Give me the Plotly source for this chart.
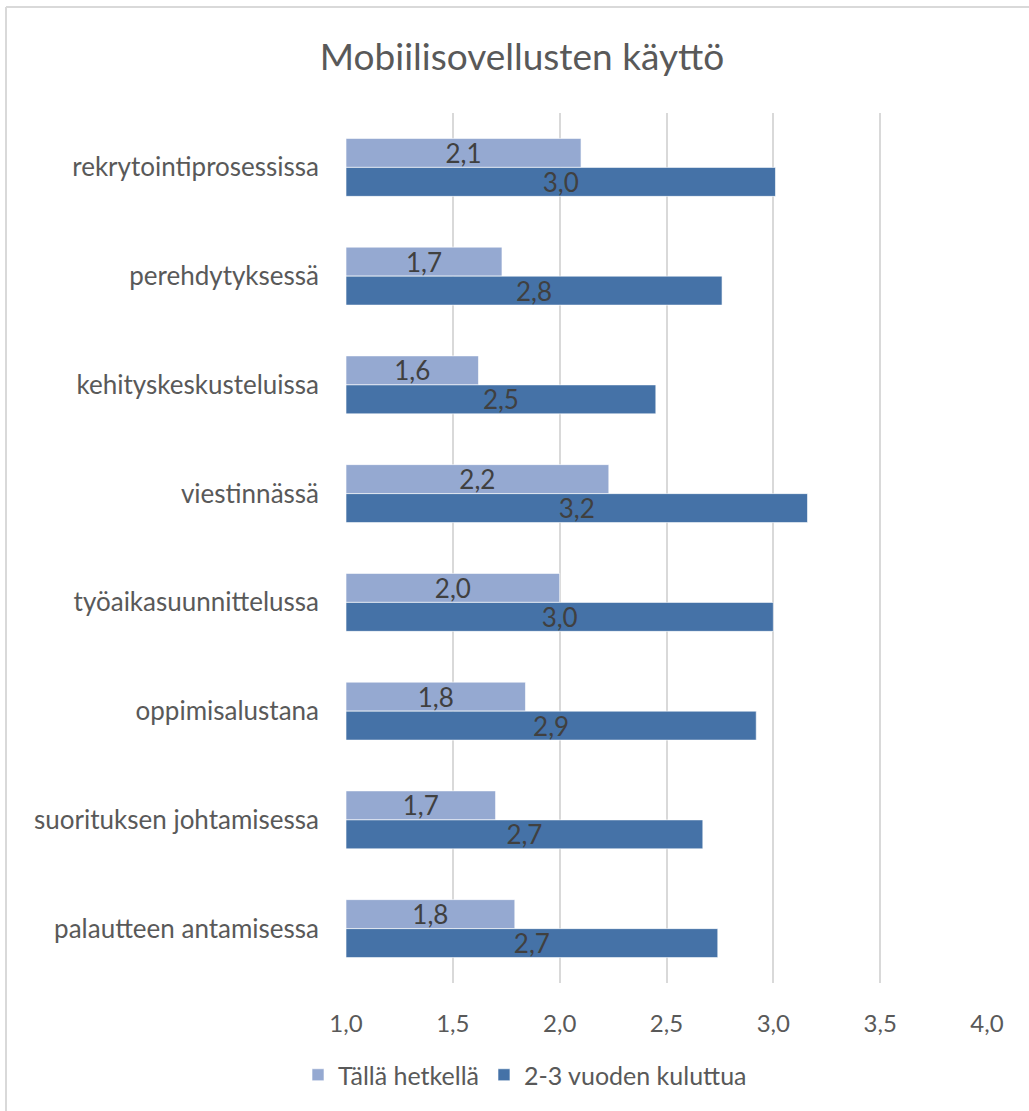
import plotly.graph_objects as go

categories = [
    "rekrytointiprosessissa",
    "perehdytyksessä",
    "kehityskeskusteluissa",
    "viestinnässä",
    "työaikasuunnittelussa",
    "oppimisalustana",
    "suorituksen johtamisessa",
    "palautteen antamisessa",
]
series_names = ["Tällä hetkellä", "2-3 vuoden kuluttua"]
current_values = [2.10, 1.73, 1.62, 2.23, 2.00, 1.84, 1.70, 1.79]
future_values = [3.01, 2.76, 2.45, 3.16, 3.00, 2.92, 2.67, 2.74]
x_ticks = [1.0, 1.5, 2.0, 2.5, 3.0, 3.5, 4.0]
axis_base = 1.0

W, H = 1029, 1111
L, R, T, B = 346, 42, 113, 128
FONT = "Lato, 'Open Sans', sans-serif"
colors = ["#95A9D1", "#4572A7"]

fig = go.Figure()
for name, vals, col in zip(series_names, [current_values, future_values], colors):
    fig.add_trace(go.Bar(
        name=name,
        y=categories,
        x=[v - axis_base for v in vals],
        base=axis_base,
        customdata=vals,
        orientation="h",
        marker=dict(color=col, line=dict(color="rgba(255,255,255,0.6)", width=1)),
        texttemplate="%{customdata:.1f}",
        textposition="inside",
        insidetextanchor="middle",
        constraintext="none",
        textfont=dict(family=FONT, size=26, color="#404040"),
        hovertemplate="%{y}: %{customdata:.1f}<extra>" + name + "</extra>",
    ))

pw = W - L - R
ph = H - T - B
def px_x(x):
    return (x - L) / pw
def px_y(y):
    return (H - B - y) / ph

fig.update_layout(
    width=W, height=H,
    margin=dict(l=L, r=R, t=T, b=B),
    paper_bgcolor="white", plot_bgcolor="white",
    separators=", ",
    barmode="group",
    bargap=0.467,
    bargroupgap=0,
    font=dict(family=FONT, color="#595959", size=24),
    title=dict(text="Mobiilisovellusten käyttö", x=522 / W, xref="container", xanchor="center",
               y=1 - 57 / H, yref="container", yanchor="middle",
               font=dict(family=FONT, size=37, color="#595959")),
    xaxis=dict(range=[1, 4], tickvals=x_ticks, tickformat=".1f", showgrid=True,
               gridcolor="#D9D9D9", gridwidth=2, zeroline=False, showline=False,
               ticks="", ticklabelstandoff=24, tickfont=dict(size=24, color="#595959")),
    yaxis=dict(autorange="reversed", showgrid=False, zeroline=False, showline=False,
               ticks="", ticklabelstandoff=26, tickfont=dict(size=26, color="#595959")),
    legend=dict(orientation="h", xref="container", yref="container", x=525 / W, xanchor="center",
                y=1 - 1075 / H, yanchor="middle", font=dict(size=25, color="#595959"),
                traceorder="normal"),
    showlegend=True,
    shapes=[
        dict(type="line", xref="paper", yref="paper", x0=px_x(6), x1=px_x(W + 5), y0=px_y(7), y1=px_y(7),
             line=dict(color="#D9D9D9", width=2)),
        dict(type="line", xref="paper", yref="paper", x0=px_x(6), x1=px_x(6), y0=px_y(7), y1=px_y(H + 5),
             line=dict(color="#D9D9D9", width=2)),
    ],
)

fig.write_html("out.html")
